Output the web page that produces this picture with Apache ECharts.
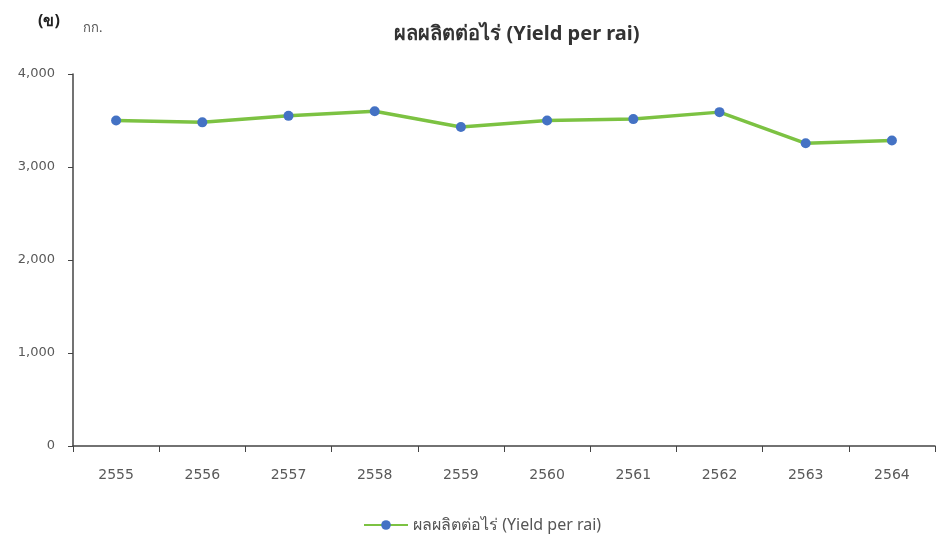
<!DOCTYPE html>
<html><head><meta charset="utf-8">
<script src="https://cdn.jsdelivr.net/npm/echarts@6/dist/echarts.min.js"></script>
<style>html,body{margin:0;padding:0;background:#fff}#c{width:945px;height:551px}</style>
</head><body><div id="c"></div>
<script>
var categories = ['2555','2556','2557','2558','2559','2560','2561','2562','2563','2564'];
var yieldPerRai = [3500, 3480, 3550, 3600, 3430, 3500, 3515, 3590, 3255, 3285];
var seriesName = 'ผลผลิตต่อไร่ (Yield per rai)';
var FONT = '"Noto Sans", sans-serif';
var NUMFONT = '"DejaVu Sans", sans-serif';
var chart = echarts.init(document.getElementById('c'));
chart.setOption({
  backgroundColor: '#fff',
  animation: false,
  title: {
    text: seriesName,
    left: 512, top: 19, textAlign: 'center',
    textStyle: {fontFamily: FONT, fontSize: 20, fontWeight: 'bold', color: '#333'}
  },
  graphic: [
    {type: 'text', left: 38, top: 13, style: {text: '(ข)', fontFamily: FONT, fontSize: 16, fontWeight: 'bold', fill: '#222'}},
    {type: 'text', left: 83, top: 22, style: {text: 'กก.', fontFamily: FONT, fontSize: 13, fill: '#555'}}
  ],
  legend: {
    data: [seriesName], left: 358, top: 512,
    itemWidth: 44, itemHeight: 12, itemGap: 6,
    textStyle: {fontFamily: FONT, fontSize: 16, color: '#555'}
  },
  grid: {left: 73, right: 10, top: 74, bottom: 105},
  xAxis: {
    type: 'category', data: categories, boundaryGap: true,
    axisLine: {lineStyle: {color: '#444', width: 1.5}},
    axisTick: {show: true, length: 6, lineStyle: {color: '#444'}},
    axisLabel: {fontFamily: NUMFONT, fontSize: 14, color: '#595959', margin: 22}
  },
  yAxis: {
    type: 'value', min: 0, max: 4000, interval: 1000,
    axisLine: {show: true, lineStyle: {color: '#444', width: 1.5}},
    axisTick: {show: true, length: 5, lineStyle: {color: '#444'}},
    splitLine: {show: false},
    axisLabel: {fontFamily: NUMFONT, fontSize: 13, color: '#595959', margin: 18,
      formatter: function(v){ return v.toLocaleString('en-US'); }}
  },
  series: [{
    name: seriesName, type: 'line', data: yieldPerRai,
    symbol: 'circle', symbolSize: 10,
    lineStyle: {color: '#7cc242', width: 3.5},
    itemStyle: {color: '#4472c4', borderWidth: 0}
  }]
});
</script></body></html>
